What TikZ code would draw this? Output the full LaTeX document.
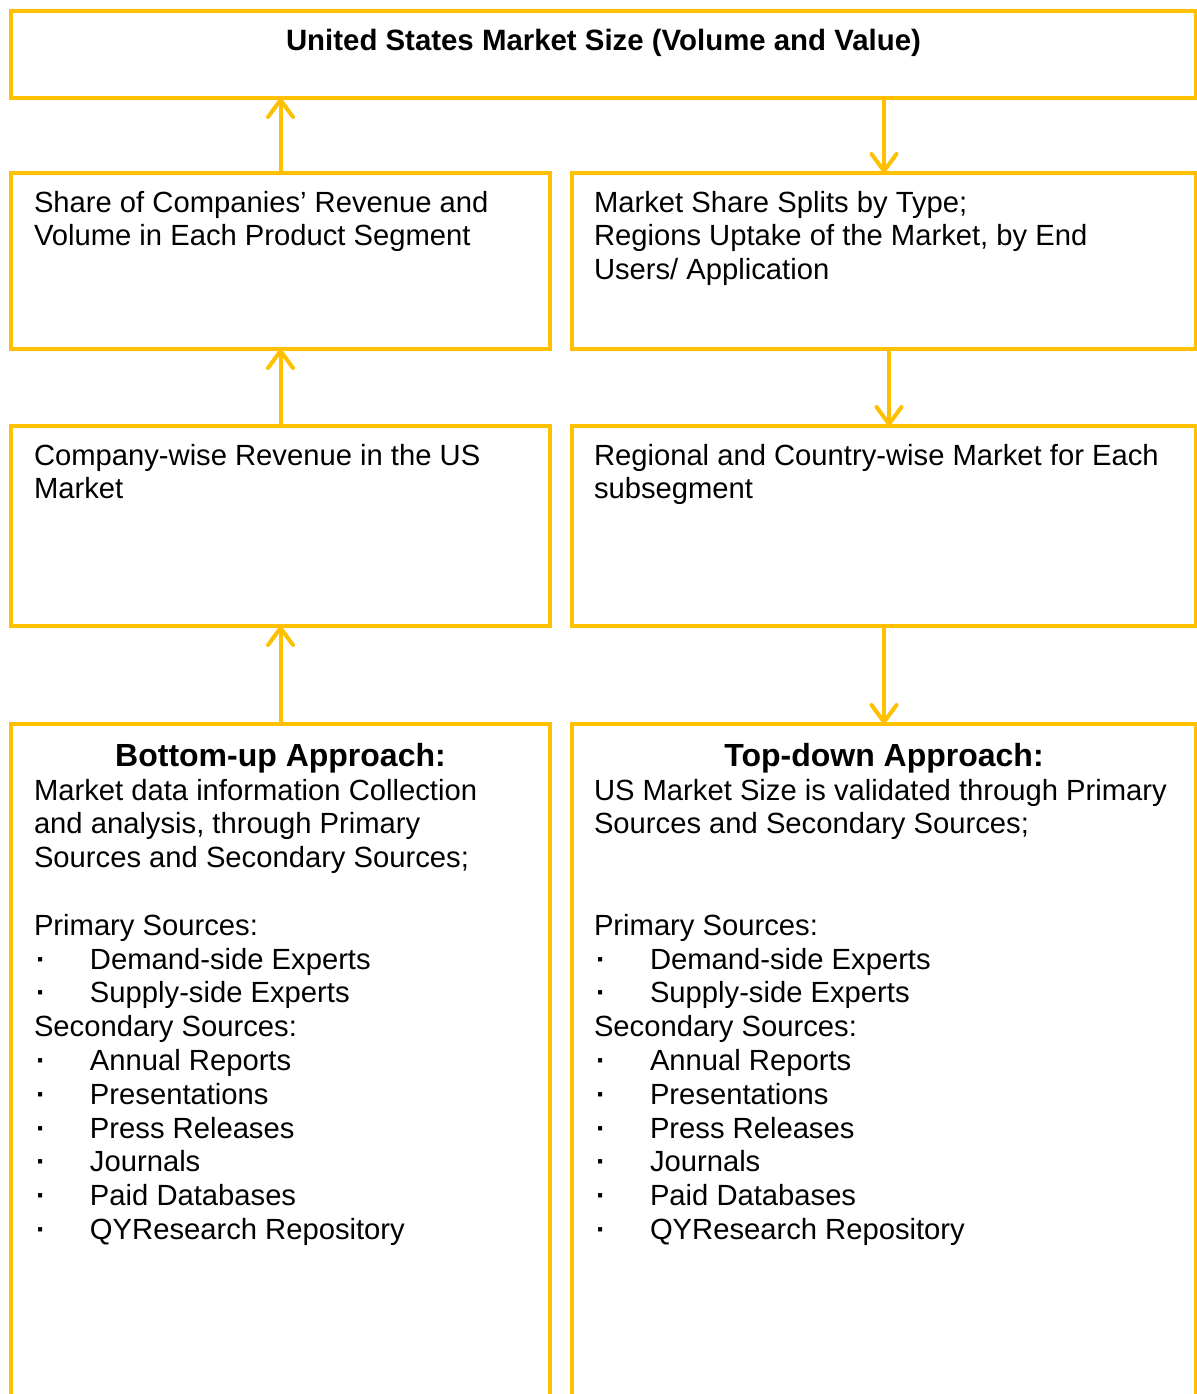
\documentclass[tikz,border=0pt]{standalone}
\usepackage{fontspec}
\setmainfont{Liberation Sans}
\usetikzlibrary{arrows.meta,positioning}
\definecolor{qygold}{HTML}{FFC000}
\def\itm{\makebox[28pt][l]{\hspace*{1pt}\textbf{·}}}

\tikzset{
	box/.style={draw=qygold, line width=2pt, rectangle, inner sep=0pt, outer sep=0pt, anchor=north west},
	link/.style={draw=qygold, line width=2pt, -{Straight Barb[length=8.5pt,width=12.5pt,round]}},
	txt/.style={font=\fontsize{14.6pt}{16.9pt}\selectfont, inner sep=0pt, outer sep=0pt, align=left},
	head/.style={font=\fontsize{16pt}{18pt}\selectfont\bfseries, inner sep=0pt, outer sep=0pt}
}

\begin{document}
\begin{tikzpicture}[x=0.5pt, y=-0.5pt]
		%%%%% START %%%%%
		\useasboundingbox (0, 0) rectangle (1196, 1394);
		
		\node[box, minimum width=592.5pt, minimum height=43.5pt] (top) at (11, 11) {};
		\node[box, minimum width=269.5pt, minimum height=88pt] (share) at (11, 173) {};
		\node[box, minimum width=312pt, minimum height=88pt] (split) at (572, 173) {};
		\node[box, minimum width=269.5pt, minimum height=100pt] (company) at (11, 426) {};
		\node[box, minimum width=312pt, minimum height=100pt] (regional) at (572, 426) {};
		\node[box, minimum width=269.5pt, minimum height=380pt] (bottomup) at (11, 724) {};
		\node[box, minimum width=312pt, minimum height=380pt] (topdown) at (572, 724) {};
		
		\node[txt, font=\fontsize{14.7pt}{16.9pt}\selectfont\bfseries, below=9pt of top.north] (topT) {United States Market Size (Volume and Value)};
		\node[txt, below right=9pt and 11.5pt of share.north west] (shareT) {Share of Companies’ Revenue and\\Volume in Each Product Segment};
		\node[txt, below right=9pt and 11pt of split.north west] (splitT) {Market Share Splits by Type;\\Regions Uptake of the Market, by End\\Users/ Application};
		\node[txt, below right=9pt and 11.5pt of company.north west] (companyT) {Company-wise Revenue in the US\\Market};
		\node[txt, below right=9pt and 11pt of regional.north west] (regionalT) {Regional and Country-wise Market for Each\\subsegment};
		
		\node[head, below=9.5pt of bottomup.north] (bottomupH) {Bottom-up Approach:};
		\node[head, below=9.5pt of topdown.north] (topdownH) {Top-down Approach:};
		
		\node[txt, below right=27.5pt and 11.5pt of bottomup.north west] (bottomupT) {Market data information Collection\\
			and analysis, through Primary\\
			Sources and Secondary Sources;\\[16.9pt]
			Primary Sources:\\
			\itm Demand-side Experts\\
			\itm Supply-side Experts\\
			Secondary Sources:\\
			\itm Annual Reports\\
			\itm Presentations\\
			\itm Press Releases\\
			\itm Journals\\
			\itm Paid Databases\\
			\itm QYResearch Repository};
		\node[txt, below right=27.5pt and 11pt of topdown.north west] (topdownT) {US Market Size is validated through Primary\\
			Sources and Secondary Sources;\\[33.8pt]
			Primary Sources:\\
			\itm Demand-side Experts\\
			\itm Supply-side Experts\\
			Secondary Sources:\\
			\itm Annual Reports\\
			\itm Presentations\\
			\itm Press Releases\\
			\itm Journals\\
			\itm Paid Databases\\
			\itm QYResearch Repository};
		
		\draw[link] (share.north) -- (share.north |- top.south);
		\draw[link] (company.north) -- (company.north |- share.south);
		\draw[link] (bottomup.north) -- (bottomup.north |- company.south);
		
		\draw[link] (split.north |- top.south) -- (split.north);
		\draw[link] ([xshift=2.5pt]split.south) -- ([xshift=2.5pt]regional.north);
		\draw[link] (regional.south) -- (regional.south |- topdown.north);
		
		%%%%% END %%%%%
\end{tikzpicture}
\end{document}
